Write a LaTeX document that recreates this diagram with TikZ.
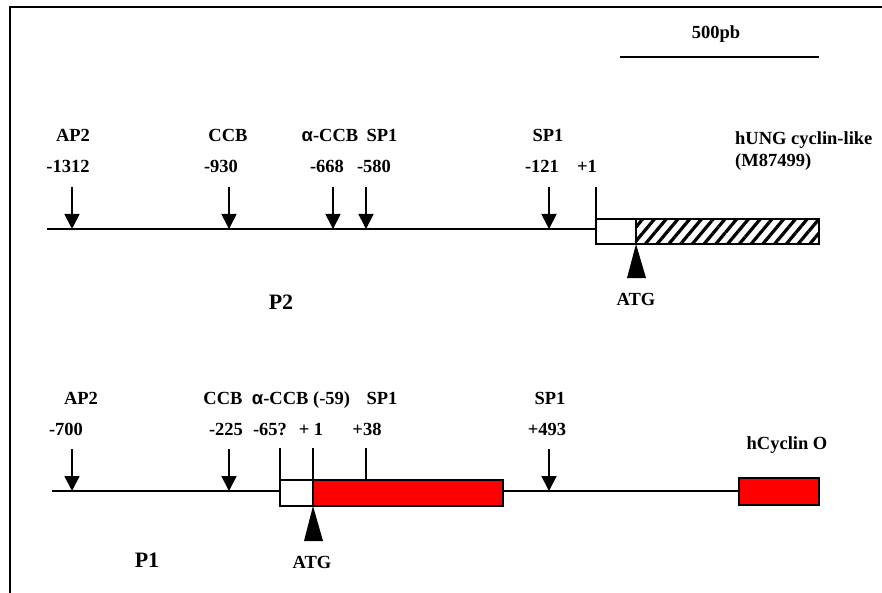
\documentclass[tikz,border=0pt]{standalone}
\usepackage{fontspec}
\setmainfont{Liberation Serif}
\newfontfamily\greekfont{Liberation Sans}
\usepackage{tikz}
\usetikzlibrary{arrows.meta,patterns.meta}
\definecolor{exoncolor}{HTML}{FF0000}

\begin{document}
\begin{tikzpicture}[x=1pt, y=-1pt,
    every node/.style={font=\fontsize{18.5}{22}\selectfont\bfseries, inner sep=0pt},
    promlabel/.style={font=\fontsize{22}{26}\selectfont\bfseries, inner sep=0pt},
    dna/.style={line width=1.8pt},
    site/.style={line width=1.8pt, -{Triangle[width=15pt,length=15pt]}},
    utrbox/.style={draw, line width=1.8pt, fill=white, minimum height=25pt, outer sep=0pt, anchor=north west},
    cdsbox/.style={draw, line width=1.8pt, fill=exoncolor, minimum height=26pt, outer sep=0pt, anchor=north west},
    hatchbox/.style={draw, line width=1.8pt, minimum height=25pt, outer sep=0pt, anchor=north west,
        pattern={Lines[angle=50,distance=9pt,line width=3.2pt]}}]
    \useasboundingbox (0,0) rectangle (882,593);

    % Frame
    \draw[line width=1.5pt] (10,593) -- (10,7) -- (882,7);

    % Scale bar
    \node[anchor=base] (scale) at (716,39) {500pb};
    \coordinate (sbl) at (620,57);
    \coordinate (sbr) at (819,57);
    \draw[dna] (sbl) -- (sbr);

    % P2 gene
    \coordinate (ptwo) at (47,229);
    \node[utrbox, minimum width=40pt] (utrtwo) at (596,219) {};
    \node[hatchbox, minimum width=183pt] (cdstwo) at (utrtwo.north east) {};
    \draw[dna] (ptwo) -- (ptwo -| utrtwo.west);
    \draw[dna] (utrtwo.north west) -- ++(0,-32);
    \foreach \x/\n in {72/a,229/b,333/c,366/d,549/e} {
        \coordinate (tt\n) at (\x,187);
        \coordinate (ts\n) at (\x,229);
        \draw[site] (tt\n) -- (ts\n);
    }
    \fill (cdstwo.south west) -- ++(-9,34) -- ++(19,0) -- cycle;
    \node[anchor=base] (atgtwo) at (636,305) {ATG};

    % P2 labels
    \node[anchor=base] (tna) at (73,142) {AP2};
    \node[anchor=base] (tnb) at (228,142) {CCB};
    \node[anchor=base] (tnc) at (330,142) {{\greekfont α}-CCB};
    \node[anchor=base] (tnd) at (382,142) {SP1};
    \node[anchor=base] (tne) at (548,142) {SP1};
    \node[anchor=base] (tpa) at (68,173) {-1312};
    \node[anchor=base] (tpb) at (221,173) {-930};
    \node[anchor=base] (tpc) at (327,173) {-668};
    \node[anchor=base] (tpd) at (374,173) {-580};
    \node[anchor=base] (tpe) at (542,173) {-121};
    \node[anchor=base] (tpf) at (587,173) {+1};
    \node[anchor=base west, align=left] (hung) at (735,167) {hUNG cyclin-like\\(M87499)};
    \node[promlabel, anchor=base] (promtwo) at (281,309) {P2};

    % P1 gene
    \coordinate (pone) at (52,491);
    \node[utrbox, minimum width=33pt, minimum height=26pt] (utrone) at (280,480) {};
    \node[cdsbox, minimum width=190pt] (cdsone) at (utrone.north east) {};
    \node[cdsbox, minimum width=80pt, minimum height=27pt] (exone) at (739,478) {};
    \draw[dna] (pone) -- (pone -| utrone.west);
    \draw[dna] (cdsone.east |- pone) -- (exone.west |- pone);
    \draw[dna] (utrone.north west) -- ++(0,-32);
    \draw[dna] (cdsone.north west) -- ++(0,-32);
    \draw[dna] ([xshift=53pt]cdsone.north west) -- ++(0,-32);
    \foreach \x/\n in {72/a,229/b,549/c} {
        \coordinate (bt\n) at (\x,449);
        \coordinate (bs\n) at (\x,491);
        \draw[site] (bt\n) -- (bs\n);
    }
    \fill (cdsone.south west) -- ++(-9,35) -- ++(19,0) -- cycle;
    \node[anchor=base] (atgone) at (312,568) {ATG};

    % P1 labels
    \node[anchor=base] (bna) at (81,404) {AP2};
    \node[anchor=base] (bnb) at (223,404) {CCB};
    \node[anchor=base] (bnc) at (301,404) {{\greekfont α}-CCB (-59)};
    \node[anchor=base] (bnd) at (382,404) {SP1};
    \node[anchor=base] (bne) at (550,404) {SP1};
    \node[anchor=base] (bpa) at (66,435) {-700};
    \node[anchor=base] (bpb) at (226,435) {-225};
    \node[anchor=base] (bpc) at (270,435) {-65?};
    \node[anchor=base] (bpd) at (311,435) {+ 1};
    \node[anchor=base] (bpe) at (367,435) {+38};
    \node[anchor=base] (bpf) at (547,435) {+493};
    \node[anchor=base] (hcyc) at (787,449) {hCyclin O};
    \node[promlabel, anchor=base] (promone) at (147,567) {P1};
\end{tikzpicture}
\end{document}
